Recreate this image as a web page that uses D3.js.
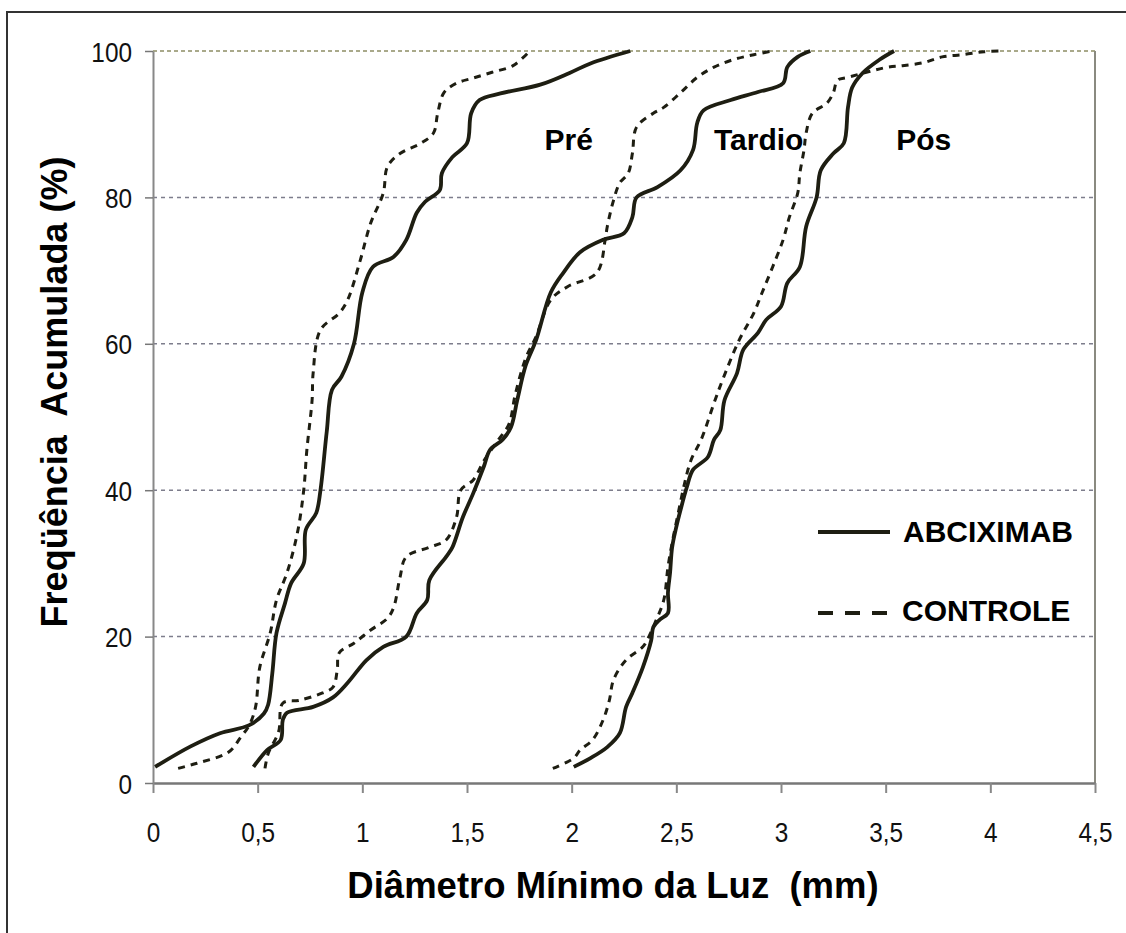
<!DOCTYPE html>
<html>
<head>
<meta charset="utf-8">
<script src="https://cdn.jsdelivr.net/npm/d3@7"></script>
<style>
  html, body { margin: 0; padding: 0; background: #fff; }
  svg { display: block; font-family: "Liberation Sans", Arial, sans-serif; }
</style>
</head>
<body>
<svg id="chart" width="1126" height="933"></svg>
<script>
// tick values
const xTicks = [0, 0.5, 1, 1.5, 2, 2.5, 3, 3.5, 4, 4.5];
const yTicks = [0, 20, 40, 60, 80, 100];

// curves: [diameter (mm), cumulative frequency (%)]
const preAbciximab = [
  [0.01, 2.2], [0.18, 5.0], [0.32, 6.8], [0.46, 7.9], [0.53, 9.5], [0.55, 10.7],
  [0.57, 15], [0.59, 20.5], [0.63, 24.5], [0.66, 27.3], [0.72, 30], [0.73, 34.6],
  [0.78, 36.9], [0.80, 40], [0.83, 48], [0.855, 53.7], [0.90, 55.5], [0.96, 60],
  [1.00, 67], [1.05, 70.5], [1.15, 71.9], [1.21, 74.2], [1.26, 77.9], [1.30, 79.4],
  [1.37, 81], [1.38, 83.3], [1.43, 85.5], [1.50, 87.4], [1.52, 91.5], [1.56, 93.3],
  [1.66, 94.2], [1.85, 95.4], [1.99, 97], [2.09, 98.3], [2.28, 100]
];
const preControle = [
  [0.12, 2], [0.21, 2.7], [0.36, 4.2], [0.42, 6.3], [0.46, 7.9], [0.49, 10.4],
  [0.51, 15.8], [0.56, 20.5], [0.59, 25], [0.64, 28.7], [0.69, 34.2], [0.72, 40],
  [0.735, 45.5], [0.76, 52.3], [0.765, 56], [0.80, 61.9], [0.89, 64.2], [0.93, 66],
  [0.99, 71.4], [1.04, 76.5], [1.10, 80.6], [1.12, 84.2], [1.18, 86], [1.28, 87.4],
  [1.34, 88.8], [1.36, 91.5], [1.39, 94.3], [1.45, 95.6], [1.53, 96.3], [1.62, 97.1],
  [1.72, 98], [1.80, 100]
];
const tardioAbciximab = [
  [0.48, 2.2], [0.545, 4.5], [0.61, 5.9], [0.62, 8.6], [0.64, 9.6], [0.765, 10.4],
  [0.86, 11.7], [0.93, 13.7], [1.02, 16.8], [1.10, 18.6], [1.21, 20], [1.26, 23.2],
  [1.31, 25], [1.32, 27.7], [1.40, 30.9], [1.43, 32.2], [1.48, 36.3], [1.53, 39.6],
  [1.58, 43.2], [1.61, 45.5], [1.67, 46.9], [1.71, 48.6], [1.74, 52.3], [1.78, 57],
  [1.83, 60.5], [1.90, 67], [1.96, 69.7], [2.04, 72.5], [2.15, 74.2], [2.25, 75.1],
  [2.29, 77.3], [2.31, 80], [2.41, 81.4], [2.52, 83.7], [2.58, 86.5], [2.60, 90.2],
  [2.63, 91.9], [2.76, 93.3], [2.89, 94.4], [3.01, 95.6], [3.03, 97.8], [3.08, 99.2],
  [3.14, 100]
];
const tardioControle = [
  [0.535, 2], [0.55, 4], [0.60, 7], [0.62, 10.9], [0.70, 11.3], [0.81, 12.3],
  [0.86, 13.1], [0.88, 15.4], [0.89, 17.8], [0.96, 19.1], [1.04, 20.9], [1.12, 22.5],
  [1.15, 24], [1.18, 28.1], [1.21, 30.9], [1.32, 32.2], [1.40, 33.2], [1.45, 36.3],
  [1.47, 40], [1.53, 41.4], [1.58, 44], [1.64, 46.5], [1.70, 49], [1.73, 53],
  [1.78, 58], [1.83, 61], [1.90, 66], [1.98, 67.8], [2.12, 69.7], [2.16, 74.2],
  [2.17, 76], [2.20, 79.6], [2.23, 82], [2.27, 83.3], [2.29, 86], [2.31, 89.6],
  [2.39, 91.5], [2.44, 92.3], [2.52, 94.3], [2.60, 96.4], [2.68, 97.8], [2.77, 98.8],
  [2.87, 99.5], [2.96, 100]
];
const posAbciximab = [
  [2.01, 2.2], [2.09, 3.4], [2.17, 4.9], [2.23, 6.8], [2.26, 10.4], [2.29, 12.3],
  [2.34, 15.8], [2.38, 19.5], [2.39, 21.3], [2.42, 22.3], [2.46, 23.2], [2.46, 26],
  [2.47, 28.7], [2.48, 32.2], [2.50, 35], [2.52, 37.3], [2.55, 40.4], [2.58, 42.8],
  [2.65, 44.5], [2.68, 46.9], [2.71, 48.2], [2.73, 52.3], [2.79, 56], [2.82, 59.2],
  [2.89, 61.5], [2.93, 63.3], [3.00, 65.1], [3.03, 68.3], [3.09, 70.5], [3.12, 76],
  [3.17, 80], [3.19, 83.7], [3.25, 86], [3.30, 87.4], [3.32, 92.3], [3.34, 95],
  [3.39, 97], [3.47, 98.8], [3.54, 100]
];
const posControle = [
  [1.91, 2], [2.01, 3.4], [2.04, 4.5], [2.10, 5.9], [2.15, 8.6], [2.18, 11.3],
  [2.20, 14.1], [2.26, 16.8], [2.34, 18.6], [2.36, 19.5], [2.40, 22], [2.44, 25],
  [2.46, 29.5], [2.48, 32.8], [2.51, 37], [2.54, 41], [2.57, 44.1], [2.62, 47],
  [2.68, 51.9], [2.72, 55], [2.80, 60.5], [2.87, 64.2], [2.91, 67], [2.96, 70.5],
  [3.01, 74.2], [3.04, 77.3], [3.08, 80.6], [3.09, 83.3], [3.11, 86.5], [3.12, 88.8],
  [3.15, 91.5], [3.22, 92.9], [3.25, 94.3], [3.27, 96], [3.32, 96.4], [3.51, 97.8],
  [3.58, 98], [3.68, 98.4], [3.77, 99.2], [3.87, 99.5], [3.97, 99.9], [4.05, 100]
];

const groupLabels = [
  { text: 'Pré', x: 1.87, y: 86.5 },
  { text: 'Tardio', x: 2.68, y: 86.5 },
  { text: 'Pós', x: 3.55, y: 86.5 }
];

const solidSeries = [preAbciximab, tardioAbciximab, posAbciximab];
const dashedSeries = [preControle, tardioControle, posControle];

const svg = d3.select('#chart');
const margin = { top: 51, right: 31, bottom: 150, left: 153 };
const W = 1126, H = 933;

const x = d3.scaleLinear().domain([0, 4.5]).range([margin.left, W - margin.right]);
const y = d3.scaleLinear().domain([0, 100]).range([H - margin.bottom, margin.top]);

// outer frame (runs off the right and bottom edges)
svg.append('rect')
  .attr('x', 7).attr('y', 12)
  .attr('width', 1140).attr('height', 940)
  .attr('fill', 'none')
  .attr('stroke', '#333')
  .attr('stroke-width', 2);

// grid lines
svg.append('g')
  .selectAll('line')
  .data(yTicks.filter(d => d > 0 && d < 100))
  .join('line')
  .attr('x1', x(0)).attr('x2', x(4.5))
  .attr('y1', d => y(d)).attr('y2', d => y(d))
  .attr('stroke', '#7d7d8c')
  .attr('stroke-width', 1.5)
  .attr('stroke-dasharray', '4,4');

// top and right borders of the plot area
svg.append('line')
  .attr('x1', x(0)).attr('x2', x(4.5))
  .attr('y1', y(100)).attr('y2', y(100))
  .attr('stroke', '#a9a98a').attr('stroke-width', 2)
  .attr('stroke-dasharray', '4,3');
svg.append('line')
  .attr('x1', x(4.5)).attr('x2', x(4.5))
  .attr('y1', y(100)).attr('y2', y(0))
  .attr('stroke', '#8a8a80').attr('stroke-width', 2);

const fmt = d => String(d).replace('.', ',');
const narrow = 0.87;

// x axis
const gx = svg.append('g')
  .attr('transform', `translate(0,${y(0)})`)
  .call(d3.axisBottom(x).tickValues(xTicks).tickFormat(fmt).tickSize(10).tickSizeOuter(0));
gx.select('.domain').attr('stroke', '#777').attr('stroke-width', 2.5);
gx.selectAll('.tick line').attr('stroke', '#888').attr('stroke-width', 2);
gx.selectAll('.tick text')
  .attr('y', 59).attr('dy', 0)
  .attr('transform', `scale(${narrow},1)`)
  .attr('fill', '#111')
  .style('font-size', '28px');

// y axis
const gy = svg.append('g')
  .attr('transform', `translate(${x(0)},0)`)
  .call(d3.axisLeft(y).tickValues(yTicks).tickSize(8).tickSizeOuter(0));
gy.select('.domain').attr('stroke', '#888').attr('stroke-width', 2);
gy.selectAll('.tick line').attr('stroke', '#777').attr('stroke-width', 1.5);
gy.selectAll('.tick text')
  .attr('x', -21 / narrow).attr('dy', '0.36em')
  .attr('transform', `scale(${narrow},1)`)
  .attr('fill', '#111')
  .style('font-size', '28px');
svg.selectAll('.tick text').style('font-family', '"Liberation Sans", Arial, sans-serif');

// curves
const line = d3.line()
  .x(d => x(d[0]))
  .y(d => y(d[1]))
  .curve(d3.curveCatmullRom.alpha(0.5));

svg.append('g')
  .selectAll('path')
  .data(dashedSeries)
  .join('path')
  .attr('d', line)
  .attr('fill', 'none')
  .attr('stroke', '#1e1e12')
  .attr('stroke-width', 3)
  .attr('stroke-dasharray', '7,6');

svg.append('g')
  .selectAll('path')
  .data(solidSeries)
  .join('path')
  .attr('d', line)
  .attr('fill', 'none')
  .attr('stroke', '#1e1e12')
  .attr('stroke-width', 3.8)
  .attr('stroke-linejoin', 'round');

// group labels
svg.append('g')
  .selectAll('text')
  .data(groupLabels)
  .join('text')
  .attr('x', d => x(d.x))
  .attr('y', d => y(d.y))
  .attr('font-size', 30)
  .attr('font-weight', 'bold')
  .text(d => d.text);

// legend
const legend = svg.append('g');
legend.append('line')
  .attr('x1', 818).attr('x2', 890).attr('y1', 532).attr('y2', 532)
  .attr('stroke', '#1e1e12').attr('stroke-width', 4);
legend.append('text')
  .attr('x', 903).attr('y', 542)
  .attr('font-size', 30).attr('font-weight', 'bold')
  .text('ABCIXIMAB');
legend.append('line')
  .attr('x1', 818).attr('x2', 887).attr('y1', 613).attr('y2', 613)
  .attr('stroke', '#1e1e12').attr('stroke-width', 4)
  .attr('stroke-dasharray', '15,12');
legend.append('text')
  .attr('x', 902).attr('y', 621)
  .attr('font-size', 30).attr('font-weight', 'bold')
  .text('CONTROLE');

// axis titles
svg.append('text')
  .attr('x', 613).attr('y', 898)
  .attr('text-anchor', 'middle')
  .attr('font-size', 36.5).attr('font-weight', 'bold')
  .style('white-space', 'pre')
  .text('Diâmetro Mínimo da Luz  (mm)');

svg.append('text')
  .attr('transform', 'translate(67,392) rotate(-90)')
  .attr('text-anchor', 'middle')
  .attr('font-size', 36).attr('font-weight', 'bold')
  .style('white-space', 'pre')
  .text('Freqüência  Acumulada (%)');
</script>
</body>
</html>
